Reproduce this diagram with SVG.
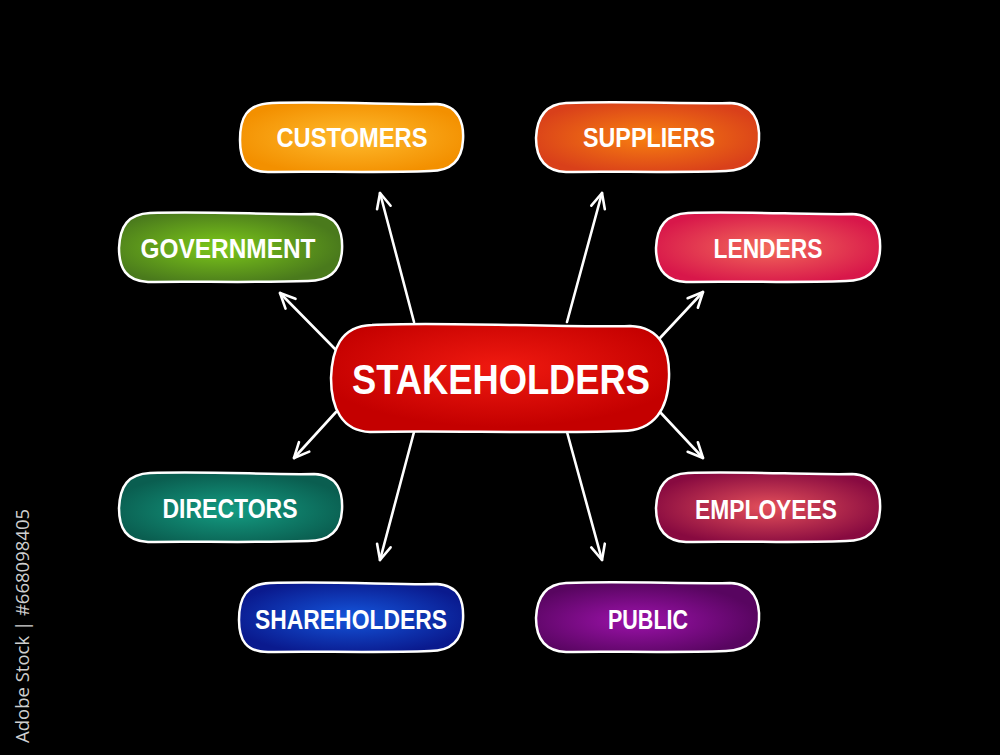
<svg xmlns="http://www.w3.org/2000/svg" width="1000" height="755" viewBox="0 0 1000 755">
<defs>
<radialGradient id="gOrange" cx="50%" cy="50%" r="55%"><stop offset="0" stop-color="#ffbb2e"/><stop offset="1" stop-color="#f39000"/></radialGradient>
<radialGradient id="gSupp" cx="50%" cy="50%" r="55%"><stop offset="0" stop-color="#f88010"/><stop offset="1" stop-color="#d9401a"/></radialGradient>
<radialGradient id="gGov" cx="45%" cy="50%" r="55%"><stop offset="0" stop-color="#7cc81a"/><stop offset="1" stop-color="#4a7a1c"/></radialGradient>
<radialGradient id="gLend" cx="50%" cy="50%" r="55%"><stop offset="0" stop-color="#f26a5a"/><stop offset="1" stop-color="#d8174a"/></radialGradient>
<radialGradient id="gCenter" cx="50%" cy="40%" r="55%"><stop offset="0" stop-color="#f01a10"/><stop offset="1" stop-color="#c40000"/></radialGradient>
<radialGradient id="gDir" cx="50%" cy="55%" r="55%"><stop offset="0" stop-color="#149c82"/><stop offset="1" stop-color="#0a5e50"/></radialGradient>
<radialGradient id="gEmp" cx="50%" cy="50%" r="55%"><stop offset="0" stop-color="#e4505a"/><stop offset="1" stop-color="#880a40"/></radialGradient>
<radialGradient id="gShare" cx="50%" cy="50%" r="55%"><stop offset="0" stop-color="#1456dc"/><stop offset="1" stop-color="#0a1a8e"/></radialGradient>
<radialGradient id="gPub" cx="45%" cy="55%" r="55%"><stop offset="0" stop-color="#9c12aa"/><stop offset="1" stop-color="#580560"/></radialGradient>
<marker id="arr" viewBox="0 0 20 20" refX="18" refY="10" markerWidth="20" markerHeight="20" markerUnits="userSpaceOnUse" orient="auto">
<path d="M3,3 L18,10 L3,17" fill="none" stroke="#fff" stroke-width="2.6" stroke-linecap="round" stroke-linejoin="round"/>
</marker>
</defs>
<style>
.box{stroke:#fff;stroke-width:2.5}
.lbl{font-family:"Liberation Sans",Arial,sans-serif;font-weight:bold;fill:#fff;font-size:27px;text-anchor:middle}
.big{font-size:42px}
.con line{stroke:#fff;stroke-width:2.6;stroke-linecap:round;marker-end:url(#arr)}
</style>
<rect width="1000" height="755" fill="#000"/>
<g class="con">
<line x1="414" y1="322" x2="380" y2="193"/>
<line x1="336" y1="350" x2="280" y2="293"/>
<line x1="567" y1="322" x2="602" y2="193"/>
<line x1="660" y1="338" x2="703" y2="292"/>
<line x1="336" y1="412" x2="294" y2="458"/>
<line x1="414" y1="432" x2="380" y2="560"/>
<line x1="567" y1="432" x2="602" y2="560"/>
<line x1="660" y1="412" x2="703" y2="458"/>
</g>
<g id="customers">
<path class="box" fill="url(#gOrange)" d="M272,103 C330,101 400,105 436,104 C460,105 464,125 463,140 C462,160 452,171 430,171 C380,173 310,171 268,172 C246,172 240,160 240,140 C240,118 246,104 272,103 Z"/>
<text class="lbl" x="352" y="147" textLength="151" lengthAdjust="spacingAndGlyphs">CUSTOMERS</text>
</g>
<g id="suppliers">
<path class="box" fill="url(#gSupp)" d="M566,103 C620,101 690,104 730,103 C754,104 760,122 759,140 C758,160 748,170 726,171 C670,173 610,171 566,172 C544,171 536,158 536,138 C537,116 546,104 566,103 Z"/>
<text class="lbl" x="649" y="147" textLength="132" lengthAdjust="spacingAndGlyphs">SUPPLIERS</text>
</g>
<g id="government">
<path class="box" fill="url(#gGov)" d="M150,213 C210,211 270,215 314,214 C338,215 343,232 342,250 C341,270 330,281 308,281 C250,283 190,281 148,282 C126,281 119,268 119,248 C120,226 128,214 150,213 Z"/>
<text class="lbl" x="228" y="258" textLength="175" lengthAdjust="spacingAndGlyphs">GOVERNMENT</text>
</g>
<g id="lenders">
<path class="box" fill="url(#gLend)" d="M688,213 C740,211 810,215 852,214 C876,215 881,232 880,250 C879,270 868,281 846,281 C790,283 728,281 686,282 C664,281 656,268 656,248 C657,226 666,214 688,213 Z"/>
<text class="lbl" x="768" y="258" textLength="109" lengthAdjust="spacingAndGlyphs">LENDERS</text>
</g>
<g id="stakeholders">
<path class="box" fill="url(#gCenter)" d="M372,325 C440,321 560,328 630,326 C662,327 670,352 669,378 C668,408 655,431 622,431 C540,434 440,430 370,432 C342,431 331,408 331,378 C332,350 340,326 372,325 Z"/>
<text class="lbl big" x="501" y="394" textLength="298" lengthAdjust="spacingAndGlyphs">STAKEHOLDERS</text>
</g>
<g id="directors">
<path class="box" fill="url(#gDir)" d="M150,473 C210,471 270,475 314,474 C338,475 343,492 342,510 C341,530 330,541 308,541 C250,543 190,541 148,542 C126,541 119,528 119,508 C120,486 128,474 150,473 Z"/>
<text class="lbl" x="230" y="518" textLength="135" lengthAdjust="spacingAndGlyphs">DIRECTORS</text>
</g>
<g id="employees">
<path class="box" fill="url(#gEmp)" d="M688,473 C740,471 810,475 852,474 C876,475 881,492 880,510 C879,530 868,541 846,541 C790,543 728,541 686,542 C664,541 656,528 656,508 C657,486 666,474 688,473 Z"/>
<text class="lbl" x="766" y="519" textLength="142" lengthAdjust="spacingAndGlyphs">EMPLOYEES</text>
</g>
<g id="shareholders">
<path class="box" fill="url(#gShare)" d="M270,583 C330,581 400,585 436,584 C460,585 464,602 463,620 C462,640 452,651 430,651 C380,653 310,651 268,652 C246,652 239,640 239,620 C239,598 246,584 270,583 Z"/>
<text class="lbl" x="351" y="629" textLength="192" lengthAdjust="spacingAndGlyphs">SHAREHOLDERS</text>
</g>
<g id="public">
<path class="box" fill="url(#gPub)" d="M566,583 C620,581 690,584 730,583 C754,584 760,602 759,620 C758,640 748,650 726,651 C670,653 610,651 566,652 C544,651 536,638 536,618 C537,596 546,584 566,583 Z"/>
<text class="lbl" x="648" y="629" textLength="80" lengthAdjust="spacingAndGlyphs">PUBLIC</text>
</g>
<text x="29" y="743" transform="rotate(-90 29 743)" font-family="'Open Sans','Liberation Sans',sans-serif" font-size="18.5" fill="#cfcfcf">Adobe Stock | #668098405</text>
</svg>
